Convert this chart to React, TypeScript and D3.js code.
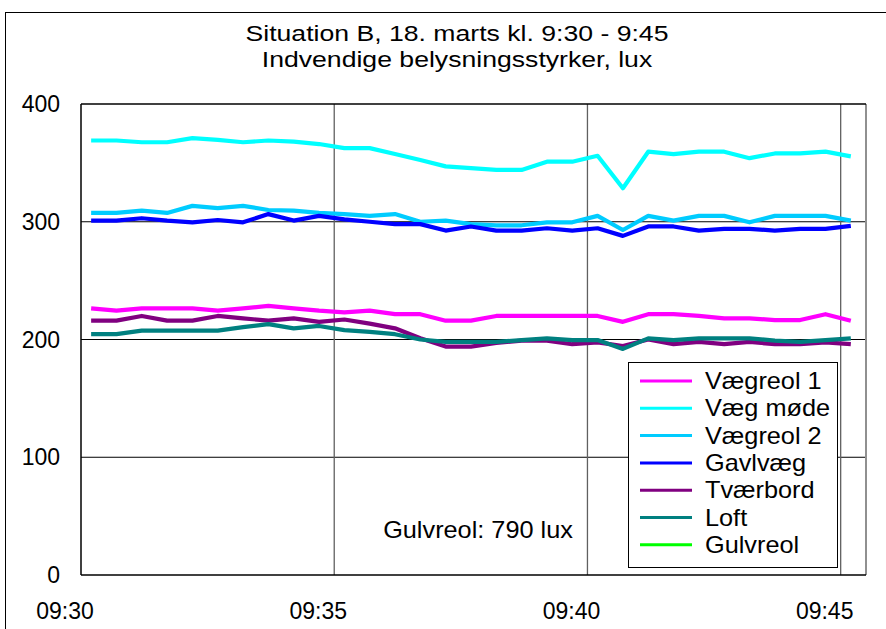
import React from "react";
import * as d3 from "d3";

const times = [
  "09:30:12","09:30:42","09:31:12","09:31:42","09:32:12","09:32:42","09:33:12","09:33:42",
  "09:34:12","09:34:42","09:35:12","09:35:42","09:36:12","09:36:42","09:37:12","09:37:42",
  "09:38:12","09:38:42","09:39:12","09:39:42","09:40:12","09:40:42","09:41:12","09:41:42",
  "09:42:12","09:42:42","09:43:12","09:43:42","09:44:12","09:44:42","09:45:12",
];

const vaegreol1 = [226.5,224.5,226.5,226.5,226.5,224.5,226.5,228.5,226.5,224.5,223,224.5,221.5,221.5,216,216,220,220,220,220,220,215,221.5,221.5,220,218,218,216.5,216.5,221.5,216];
const vaegMoede = [369,369,367.5,367.5,371,369.5,367.5,369,368,366,362.5,362.5,357.5,352.5,347,345.5,344,344,351,351,356,328.5,359.5,357.5,359.5,359.5,354,358,358,359.5,355.5];
const vaegreol2 = [307.5,307.5,309.5,307.5,313.5,311.5,313.5,310,309.5,307.5,306.5,305,306.5,300,301,298,297,297,299.5,299.5,305,293,305,301,305,305,299.5,305,305,305,301];
const gavlvaeg = [301,301,303,301,299.5,301.5,299.5,306.5,301,305,302,300,298,298,292.5,296,292.5,292.5,294.5,292.5,294.5,288,296,296,292.5,294,294,292.5,294,294,296.5];
const tvaerbord = [216,216,220,216,216,220,218,216,218,215,217,213.5,209.5,201,194,194,197,199,199,196,197.5,194.5,200,196,198,196,198,196,196,197.5,196];
const loft = [204.5,204.5,207.5,207.5,207.5,207.5,210.5,213,209.5,211.5,208,206.5,204.5,200,198,198,198,199.5,201,199.5,199.5,192,201,199.5,201,201,201,199,198,199.5,201];
const gulvreol: number[] = [];

const seriesNames = ["Vægreol 1", "Væg møde", "Vægreol 2", "Gavlvæg", "Tværbord", "Loft", "Gulvreol"];
const seriesColors = ["#FF00FF", "#00FFFF", "#00CCFF", "#0000FF", "#800080", "#008080", "#00FF00"];
const seriesValues = [vaegreol1, vaegMoede, vaegreol2, gavlvaeg, tvaerbord, loft, gulvreol];

const yTicks = [0, 100, 200, 300, 400];
const xTickLabels = ["09:30", "09:35", "09:40", "09:45"];
const titleText = "Situation B, 18. marts kl. 9:30 - 9:45";
const subtitleText = "Indvendige belysningsstyrker, lux";
const noteText = "Gulvreol: 790 lux";

const toMin = (s: string) => {
  const [h, m, sec] = s.split(":").map(Number);
  return (h - 9) * 60 + (m - 30) + (sec || 0) / 60;
};

const FONT = "'Liberation Sans', Arial, sans-serif";

function T({ x, y, anchor = "start", size = 23, sx = 1.1, children }: any) {
  return (
    <text
      transform={`translate(${x},${y}) scale(${sx},1)`}
      textAnchor={anchor}
      fontSize={size}
      fontFamily={FONT}
      fill="#000"
    >
      {children}
    </text>
  );
}

export default function App() {
  const W = 886, H = 629;
  const left = 81, right = 866, top = 104, bottom = 575;
  const x = d3.scaleLinear().domain([0, 15.5]).range([left, right]);
  const y = d3.scaleLinear().domain([0, 400]).range([bottom, top]);

  const line = d3
    .line<[number, number]>()
    .x((d) => x(d[0]))
    .y((d) => y(d[1]));

  const legendX = 628, legendY = 362, legendW = 209, legendH = 205;
  const rowH = 27.3;

  return (
    <svg width={W} height={H} style={{ position: "absolute", left: 0, top: 0 }}>
      <rect x={0} y={0} width={W} height={H} fill="#fff" />
      <rect x={5.5} y={12.5} width={W + 20} height={H + 20} fill="none" stroke="#000" strokeWidth={1} />

      <T x={457} y={41} anchor="middle" size={22} sx={1.21}>{titleText}</T>
      <T x={457} y={67} anchor="middle" size={22} sx={1.21}>{subtitleText}</T>

      <defs>
        <clipPath id="plotclip">
          <rect x={left} y={top} width={right - left} height={bottom - top} />
        </clipPath>
      </defs>

      {yTicks.filter((v) => v > 0 && v < 400).map((v) => (
        <line key={v} x1={left} x2={right} y1={y(v)} y2={y(v)} stroke="#000" strokeWidth={1} />
      ))}
      {xTickLabels.slice(1).map((lbl) => (
        <line key={lbl} x1={x(toMin(lbl))} x2={x(toMin(lbl))} y1={top} y2={bottom} stroke="#606060" strokeWidth={1.3} />
      ))}

      <line x1={right} x2={right} y1={top} y2={bottom} stroke="#909090" strokeWidth={2} />
      <line x1={left} x2={right} y1={top} y2={top} stroke="#000" strokeWidth={1.5} />
      <line x1={left} x2={left} y1={top} y2={bottom} stroke="#000" strokeWidth={1.5} />
      <line x1={left} x2={right} y1={bottom} y2={bottom} stroke="#000" strokeWidth={1.5} />

      <g clipPath="url(#plotclip)">
        {seriesValues.map((vals, i) =>
          vals.length ? (
            <path
              key={seriesNames[i]}
              d={line(vals.map((v, j) => [toMin(times[j]), v]) as [number, number][]) || ""}
              fill="none"
              stroke={seriesColors[i]}
              strokeWidth={4.2}
              strokeLinejoin="round"
            />
          ) : null
        )}
      </g>

      {yTicks.map((v) => (
        <T key={v} x={60} y={y(v) + 8} anchor="end" sx={1.0}>{String(v)}</T>
      ))}
      {xTickLabels.map((lbl) => (
        <T key={lbl} x={x(toMin(lbl)) - 16} y={619} anchor="middle" sx={1.0}>{lbl}</T>
      ))}

      <T x={478} y={538} anchor="middle">{noteText}</T>

      <rect x={legendX + 0.5} y={legendY + 0.5} width={legendW} height={legendH} fill="#fff" stroke="#000" strokeWidth={1} />
      {seriesNames.map((name, i) => {
        const cy = legendY + 19 + i * rowH;
        return (
          <g key={name}>
            <line x1={640} x2={692} y1={cy} y2={cy} stroke={seriesColors[i]} strokeWidth={3} />
            <T x={705} y={cy + 8}>{name}</T>
          </g>
        );
      })}
    </svg>
  );
}
